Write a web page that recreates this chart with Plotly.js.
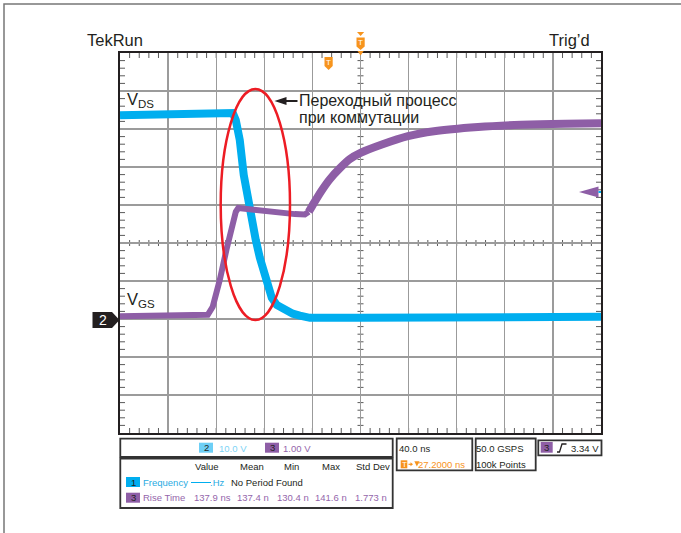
<!DOCTYPE html>
<html><head><meta charset="utf-8">
<script src="https://cdn.plot.ly/plotly-3.0.1.min.js"></script>
<style>html,body{margin:0;padding:0;background:#fff;} #chart{width:681px;height:533px;}</style>
</head><body><div id="chart"></div>
<script>
// ---- data (time in ns relative to trigger) ----
const vdsTime  = [-172.8, -127.3, -83.2, -79.0, -76.5, -73.2, -69.9, -66.5, -63.2, -59.9, -56.5, -53.2, -49.9, -46.6, -42.4, -35.7, -29.1, -23.2, -14.9, 26.7, 101.6, 176.6, 227.2];
const vdsVolts = [53.6, 53.8, 54.2, 54.2, 52.3, 47.1, 37.9, 31.3, 25.5, 20.8, 16.1, 12.4, 8.5, 5.6, 3.7, 2.4, 1.4, 0.9, 0.3, 0.3, 0.3, 0.4, 0.6];
const vgsTime  = [-172.8, -131.5, -99.8, -95.7, -92.3, -89.8, -84.3, -79.0, -76.5, -74.4, -64.9, -52.4, -39.9, -27.4, -19.1, -15.8, -11.6, -4.9, 1.7, 10.1, 18.4, 27.2, 45.0, 66.7, 88.3, 124.9, 160.7, 197.4, 227.2];
const vgsVolts = [0.07, 0.08, 0.11, 0.32, 0.69, 1.03, 1.82, 2.53, 2.82, 2.92, 2.88, 2.86, 2.80, 2.76, 2.75, 2.82, 3.05, 3.39, 3.68, 3.97, 4.21, 4.37, 4.59, 4.81, 4.94, 5.05, 5.11, 5.14, 5.15];
const timePerDiv = 40;      // ns/div
const horizDelay = 27.2;    // ns
const ch2VoltsPerDiv = 10;
const ch3VoltsPerDiv = 1;
const groundDiv = -2;       // channel ground position (div from centre)
const triggerLevel = 3.34;
const statHeaders = ['Value', 'Mean', 'Min', 'Max', 'Std Dev'];
const riseTimeStats = ['137.9 ns', '137.4 n', '130.4 n', '141.6 n', '1.773 n'];
const annotationLines = ['Переходный процесс', 'при коммутации'];

// ---- geometry ----
const W = 681, H = 533, L = 120, R = 80, TM = 53, B = 100;
const pw = W - L - R, ph = H - TM - B;
const X = px => (px - L) / pw;
const Y = py => (H - B - py) / ph;
const path = pts => 'M' + pts.map(p => X(p[0]) + ',' + Y(p[1])).join('L') + 'Z';

const FONT = 'Liberation Sans, Arial, sans-serif';
const CYAN = '#00AEEF', PURPLE = '#8E5EA6', ORANGE = '#F7941D', DARK = '#231F20';

const xr = [horizDelay - 5 * timePerDiv, horizDelay + 5 * timePerDiv];
const y2r = [(-5 - groundDiv) * ch2VoltsPerDiv, (5 - groundDiv) * ch2VoltsPerDiv];
const y3r = [(-5 - groundDiv) * ch3VoltsPerDiv, (5 - groundDiv) * ch3VoltsPerDiv];
const xpx = t => L + (t - xr[0]) / (xr[1] - xr[0]) * pw;
const ypx = v => TM + (y2r[1] - v) / (y2r[1] - y2r[0]) * ph;

// split VGS into thinner early part and thicker (noisier) late part
const splitIdx = 15;
const traces = [
  {x: vgsTime.slice(0, splitIdx + 1), y: vgsVolts.slice(0, splitIdx + 1), yaxis: 'y2', mode: 'lines',
   line: {color: PURPLE, width: 6}, hoverinfo: 'skip'},
  {x: vgsTime.slice(splitIdx), y: vgsVolts.slice(splitIdx), yaxis: 'y2', mode: 'lines',
   line: {color: PURPLE, width: 8, shape: 'spline', smoothing: 0.8}, hoverinfo: 'skip'},
  {x: vdsTime, y: vdsVolts, mode: 'lines', line: {color: CYAN, width: 8}, hoverinfo: 'skip'}
];

const shapes = [];
const seg = (x0, y0, x1, y1, c, w) => shapes.push({type: 'line', xref: 'paper', yref: 'paper', layer: 'below',
  x0: X(x0), x1: X(x1), y0: Y(y0), y1: Y(y1), line: {color: c, width: w}});
// minor ticks: 1/5 division on borders and centre lines
const tc = '#5a5a5a';
const yTop = ypx(y2r[1]), yBot = ypx(y2r[0]), yMid = (yTop + yBot) / 2;
const xLeft = xpx(xr[0]), xRight = xpx(xr[1]), xMid = (xLeft + xRight) / 2;
for (let k = 1; k < 50; k++) {
  const px = xpx(xr[0] + k * timePerDiv / 5);
  seg(px, yTop, px, yTop + 5, tc, 1);
  seg(px, yBot, px, yBot - 5, tc, 1);
  seg(px, yMid - 3, px, yMid + 3, tc, 1);
  const py = ypx(y2r[0] + k * ch2VoltsPerDiv / 5);
  seg(xLeft, py, xLeft + 5, py, tc, 1);
  seg(xRight, py, xRight - 5, py, tc, 1);
  seg(xMid - 3, py, xMid + 3, py, tc, 1);
}

// outer frame
shapes.push({type: 'rect', xref: 'paper', yref: 'paper', x0: X(4), x1: X(700), y0: Y(4), y1: Y(560), line: {color: '#777', width: 1.5}});
// red ellipse
shapes.push({type: 'circle', xref: 'paper', yref: 'paper', x0: X(220.7), x1: X(290), y0: Y(89), y1: Y(320), line: {color: '#ED1C24', width: 2.5}});
// annotation arrow
shapes.push({type: 'line', xref: 'paper', yref: 'paper', x0: X(284), x1: X(297.5), y0: Y(101), y1: Y(101), line: {color: DARK, width: 2}});
shapes.push({type: 'path', xref: 'paper', yref: 'paper', path: path([[274.5, 101], [286.5, 97], [286.5, 105]]), fillcolor: DARK, line: {width: 0}});
// channel 2 ground marker
shapes.push({type: 'path', xref: 'paper', yref: 'paper', path: path([[92.5, 312], [112, 312], [119.5, 320], [112, 328], [92.5, 328]]), fillcolor: DARK, line: {width: 0}});
// trigger level marker (ch3)
shapes.push({type: 'path', xref: 'paper', yref: 'paper', path: path([[579, 192], [598.5, 186.5], [598.5, 197.5]]), fillcolor: PURPLE, line: {width: 0}});
shapes.push({type: 'line', xref: 'paper', yref: 'paper', x0: X(598.5), x1: X(601), y0: Y(192), y1: Y(192), line: {color: CYAN, width: 2}});
// orange horizontal position marker
shapes.push({type: 'path', xref: 'paper', yref: 'paper', path: path([[357, 32], [364.2, 32], [360.6, 36]]), fillcolor: ORANGE, line: {width: 0}});
shapes.push({type: 'path', xref: 'paper', yref: 'paper', path: path([[356.5, 37.5], [364.7, 37.5], [364.7, 46.5], [360.6, 50], [356.5, 46.5]]), fillcolor: ORANGE, line: {width: 0}});
shapes.push({type: 'path', xref: 'paper', yref: 'paper', path: path([[357.5, 51], [363.7, 51], [360.6, 55.5]]), fillcolor: ORANGE, line: {width: 0}});
// trigger point marker
shapes.push({type: 'path', xref: 'paper', yref: 'paper', path: path([[324.5, 57], [332.7, 57], [332.7, 66], [328.6, 70], [324.5, 66]]), fillcolor: ORANGE, line: {width: 0}});

// bottom boxes
const box = (x0, y0, x1, y1) => shapes.push({type: 'rect', xref: 'paper', yref: 'paper', x0: X(x0), x1: X(x1), y0: Y(y0), y1: Y(y1), line: {color: '#333', width: 1.8}});
const sq = (x0, y0, x1, y1, c) => shapes.push({type: 'rect', xref: 'paper', yref: 'paper', x0: X(x0), x1: X(x1), y0: Y(y0), y1: Y(y1), fillcolor: c, line: {width: 0}});
box(120.3, 438.7, 392.7, 457);
box(120.3, 458.7, 392.7, 508);
box(396.7, 438.5, 472.3, 470.3);
box(475.7, 438.5, 535.7, 470.3);
box(538.3, 440.3, 601.5, 455.3);
sq(199, 442.7, 213, 452.7, '#6DCFF6');
sq(265, 442.7, 279, 452.7, PURPLE);
sq(126, 477, 140, 487, CYAN);
sq(126, 492.7, 140, 502.7, PURPLE);
sq(400.7, 460.3, 407.3, 468.3, ORANGE);
sq(540.7, 442, 552.7, 452.7, PURPLE);
shapes.push({type: 'line', xref: 'paper', yref: 'paper', x0: X(191), x1: X(211), y0: Y(482.5), y1: Y(482.5), line: {color: CYAN, width: 1}});
shapes.push({type: 'path', xref: 'paper', yref: 'paper', path: 'M' + X(557) + ',' + Y(452) + 'L' + X(559.5) + ',' + Y(452) + 'L' + X(562) + ',' + Y(444) + 'L' + X(566.5) + ',' + Y(444), line: {color: DARK, width: 1.3}});
// small orange arrow and down-triangle in delay readout
shapes.push({type: 'line', xref: 'paper', yref: 'paper', x0: X(408.5), x1: X(411), y0: Y(464.3), y1: Y(464.3), line: {color: ORANGE, width: 1.2}});
shapes.push({type: 'path', xref: 'paper', yref: 'paper', path: path([[413, 464.3], [410.5, 462.3], [410.5, 466.3]]), fillcolor: ORANGE, line: {width: 0}});
shapes.push({type: 'path', xref: 'paper', yref: 'paper', path: path([[414.3, 461.3], [419.5, 461.3], [416.9, 466.5]]), fillcolor: ORANGE, line: {width: 0}});

const annotations = [];
const txt = (text, px, py, size, color, anchor) => annotations.push({
  text: text, xref: 'paper', yref: 'paper', showarrow: false,
  x: X(anchor === 'center' ? px : px - 2), y: Y(py), xanchor: anchor || 'left', yanchor: 'middle',
  font: {family: FONT, size: size, color: color}, borderpad: 0, borderwidth: 0
});
txt('TekRun', 88.7, 40, 16.5, DARK);
txt('Trig’d', 551, 40, 16.5, DARK);
txt('V', 128.5, 98.5, 16.5, DARK);
txt('DS', 139.5, 104, 11.5, DARK);
txt('V', 128.5, 298.5, 16.5, DARK);
txt('GS', 139.5, 304, 11.5, DARK);
txt(annotationLines[0], 300.5, 100.6, 16, DARK);
txt(annotationLines[1], 300.5, 117.5, 16, DARK);
txt('2', 102.5, 320, 14, '#fff', 'center');
txt('T', 360.6, 42.5, 8, '#fff', 'center');
txt('T', 328.6, 62.5, 8, '#fff', 'center');

const FS = 9.5;
txt('2', 206, 447.7, FS, DARK, 'center');
txt(ch2VoltsPerDiv.toFixed(1) + ' V', 221, 448, FS, '#7DD3F5');
txt('3', 272, 447.7, FS, DARK, 'center');
txt(ch3VoltsPerDiv.toFixed(2) + ' V', 285, 448, FS, '#9466AB');
const hdrX = [196.7, 241.7, 285.7, 324, 357.7];
statHeaders.forEach((h, i) => txt(h, hdrX[i], 466.3, FS, DARK));
txt('1', 133, 482, FS, DARK, 'center');
txt('Frequency', 145, 482, FS, '#29ABE2');
txt('.Hz', 211.5, 482, FS, '#29ABE2');
txt('No Period Found', 232.7, 482, FS, DARK);
txt('3', 133, 497.7, FS, DARK, 'center');
txt('Rise Time', 145, 497.7, FS, '#9466AB');
const valX = [195.7, 239.3, 278.7, 317.3, 356.7];
riseTimeStats.forEach((v, i) => txt(v, valX[i], 497.7, FS, '#9466AB'));
txt(timePerDiv.toFixed(1) + ' ns', 400.7, 448, FS, DARK);
txt('T', 404, 464.3, 8, '#fff', 'center');
txt(horizDelay.toFixed(4) + ' ns', 420, 464.3, FS, ORANGE);
txt('50.0 GSPS', 478.3, 448, FS, DARK);
txt('100k Points', 478.3, 464.3, FS, DARK);
txt('3', 546.7, 447.5, FS, DARK, 'center');
txt(triggerLevel.toFixed(2) + ' V', 572.7, 448, FS, DARK);

const axBase = {showticklabels: false, ticks: '', zeroline: false, showline: true, mirror: true,
  linecolor: DARK, linewidth: 2, showgrid: true, gridcolor: '#9B9B9B', gridwidth: 1.4, fixedrange: true};
const layout = {
  width: W, height: H, margin: {l: L, r: R, t: TM, b: B, pad: 0},
  paper_bgcolor: '#fff', plot_bgcolor: 'rgba(0,0,0,0)', showlegend: false,
  xaxis: Object.assign({}, axBase, {range: xr, tick0: xr[0], dtick: timePerDiv}),
  yaxis: Object.assign({}, axBase, {range: y2r, tick0: y2r[0], dtick: ch2VoltsPerDiv}),
  yaxis2: {overlaying: 'y', range: y3r, visible: false, showgrid: false, zeroline: false, fixedrange: true},
  shapes: shapes, annotations: annotations
};
Plotly.newPlot('chart', traces, layout, {staticPlot: true, displayModeBar: false});
</script></body></html>
